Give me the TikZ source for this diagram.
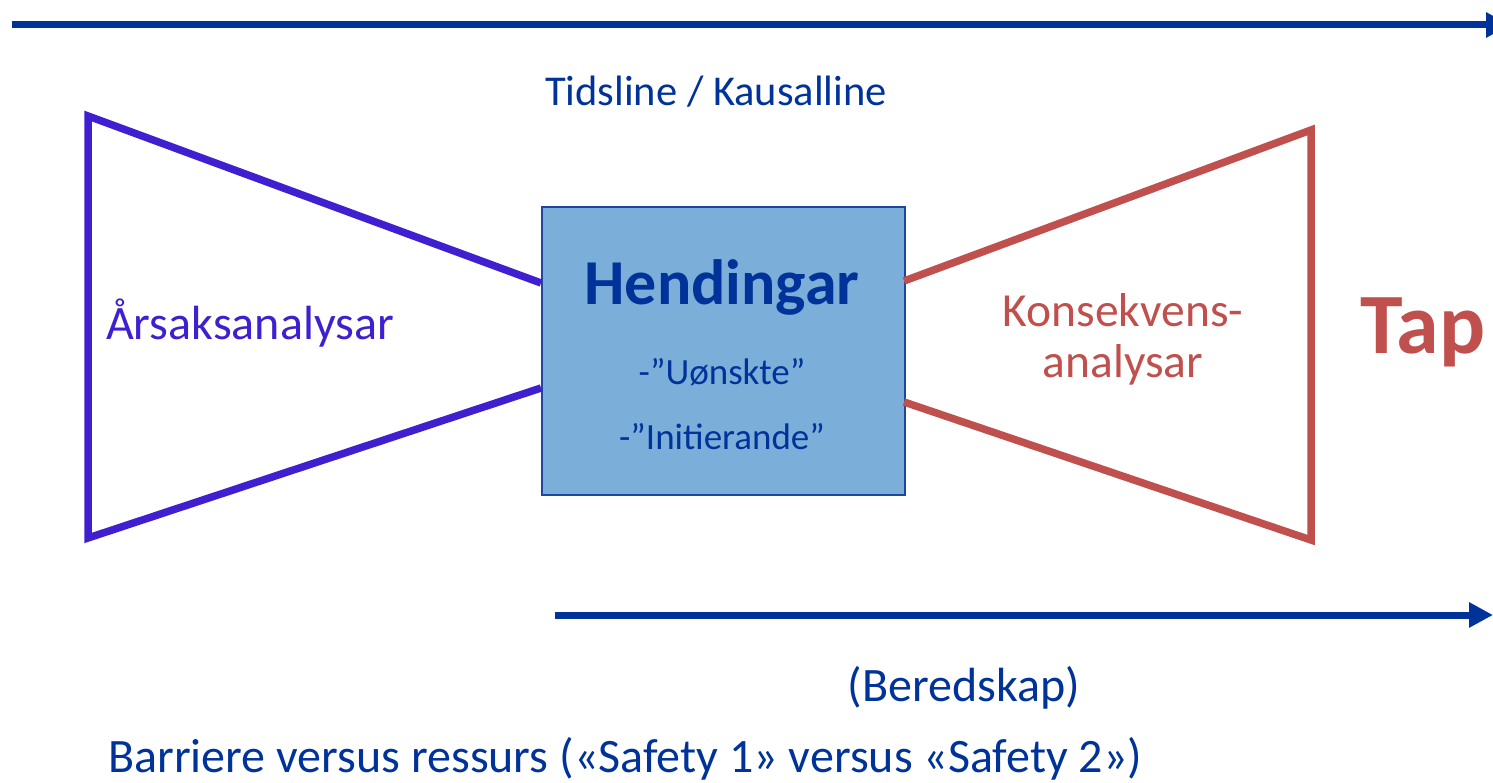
\documentclass[tikz,border=0pt]{standalone}
\usepackage{fontspec}
\setmainfont{Carlito}
\usetikzlibrary{arrows.meta}
\definecolor{navy}{RGB}{0,51,153}
\definecolor{purp}{RGB}{63,31,207}
\definecolor{redc}{RGB}{192,80,77}
\definecolor{boxfill}{RGB}{123,175,218}
\definecolor{boxline}{RGB}{30,70,160}
\tikzset{
  bluearrow/.style={draw=navy, line width=7pt, -{Triangle[length=24pt,width=24pt]}},
  purpline/.style={draw=purp, line width=7.5pt, line join=miter},
  redline/.style={draw=redc, line width=7.5pt, line join=miter},
  lbl/.style={inner sep=0pt, anchor=center},
}
\begin{document}
\begin{tikzpicture}[x=1pt,y=-1pt]
\useasboundingbox (0,0) rectangle (1493,783);
\coordinate (lt) at (88,116);
\coordinate (lb) at (88,538);
\coordinate (rt) at (1311,130);
\coordinate (rb) at (1311,540);
\node[draw=boxline, line width=1.6pt, fill=boxfill, minimum width=363pt, minimum height=288pt, inner sep=0pt, anchor=north west] (box) at (541,206) {};
\coordinate (blt) at (541,283);
\coordinate (blb) at (541,388);
\coordinate (brt) at (904,281);
\coordinate (brb) at (904,402);
\draw[purpline] (blt) -- (lt) -- (lb) -- (blb);
\draw[redline] (brt) -- (rt) -- (rb) -- (brb);
\coordinate (a1s) at (12,25);
\coordinate (a1e) at (1510,25);
\draw[bluearrow] (a1s) -- (a1e);
\coordinate (a2s) at (555,615);
\coordinate (a2e) at (1493,615);
\draw[bluearrow] (a2s) -- (a2e);
\node[lbl, text=navy, font=\fontsize{42.5}{46}\selectfont] (tl) at (716,92) {Tidsline / Kausalline};
\node[lbl, text=navy, font=\fontsize{64}{70}\selectfont\bfseries] (hend) at (722,287) {Hendingar};
\node[lbl, text=navy, font=\fontsize{37}{40}\selectfont] (u1) at (722,372) {-”Uønskte”};
\node[lbl, text=navy, font=\fontsize{37}{40}\selectfont] (u2) at (722,437) {-”Initierande”};
\node[lbl, text=purp, font=\fontsize{48}{52}\selectfont] (ars) at (250,323) {Årsaksanalysar};
\node[lbl, text=redc, font=\fontsize{47.5}{52}\selectfont] (k1) at (1123,310) {Konsekvens-};
\node[lbl, text=redc, font=\fontsize{47.5}{52}\selectfont] (k2) at (1123,365) {analysar};
\node[lbl, text=redc, font=\fontsize{86}{90}\selectfont\bfseries] (tap) at (1423,332) {Tap};
\node[lbl, text=navy, font=\fontsize{48}{52}\selectfont] (ber) at (964,688) {(Beredskap)};
\node[inner sep=0pt, anchor=west, text=navy, font=\fontsize{48}{52}\selectfont] (bar) at (108,759) {Barriere versus ressurs («Safety 1» versus «Safety 2»)};
\end{tikzpicture}
\end{document}
